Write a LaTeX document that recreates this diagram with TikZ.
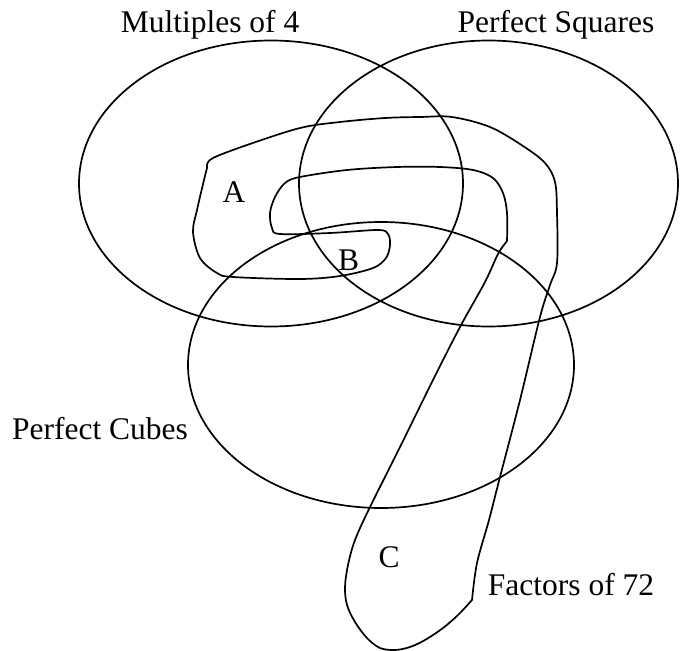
\documentclass[tikz,border=0pt]{standalone}
\usepackage{fontspec}
\setmainfont{Liberation Serif}
\newfontfamily\labserif{Liberation Serif}
\begin{document}
\begin{tikzpicture}[x=1pt,y=-1pt,
  setline/.style={line width=1.7pt, black},
  lab/.style={inner sep=0pt, anchor=base, font=\labserif\fontsize{31.5}{38}\selectfont}]
\useasboundingbox (0,0) rectangle (687,650);
% sets
\draw[setline] (271,183.5) ellipse [x radius=192pt, y radius=143pt];
\draw[setline] (488.5,183.5) ellipse [x radius=189.5pt, y radius=143pt];
\draw[setline] (381,365) ellipse [x radius=193pt, y radius=143pt];
% factors of 72 curve
\draw[setline, line join=round]
  plot[smooth, tension=0.55] coordinates {(472,600) (458,615) (443,628) (425,640) (410,647) (395,650) (380,648) (367,638) (355,622) (347,605) (345,587) (348,565) (355,540) (370,507) (400,447) (433,380) (460,327) (485,282) (498,254) (507,241)}
  -- plot[smooth, tension=0.55] coordinates {(507,241) (507,213) (503,193) (493,178) (473,170) (440,167) (397,167) (347,170) (300,177) (285,183) (275,197) (270,213) (272,228) (280,234) (330,233) (378,230) (388,234) (390,245) (386,258) (373,268) (340,276) (300,279) (233,277) (217,273) (200,258) (193,232) (197,210) (204,180) (207,168)}
  -- plot[smooth, tension=0.55] coordinates {(207,165) (213,158) (247,145) (300,128) (340,122) (385,118) (420,117) (452,117) (490,127) (523,146) (545,163) (555,182) (557,213) (557,263) (550,285) (540,317) (520,400) (500,477) (489,520) (477,563) (472,600)}
  -- cycle;
% labels
\node[lab] (m4) at (210,33) {Multiples of 4};
\node[lab] (ps) at (556,33) {Perfect Squares};
\node[lab] (pc) at (100,439) {Perfect Cubes};
\node[lab] (f72) at (571,595) {Factors of 72};
\node[lab] (la) at (234,202) {A};
\node[lab] (lb) at (348.5,270) {B};
\node[lab] (lc) at (389,567) {C};
\end{tikzpicture}
\end{document}
